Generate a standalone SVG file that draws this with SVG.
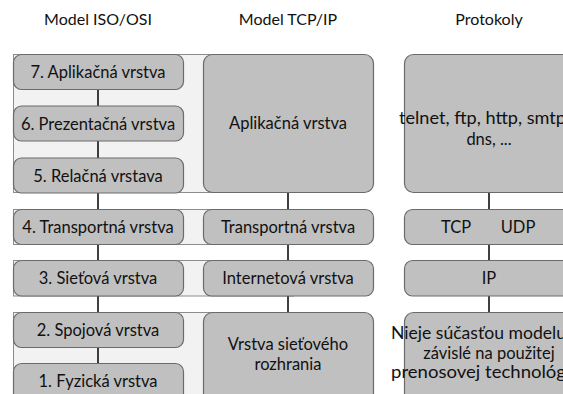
<svg xmlns="http://www.w3.org/2000/svg" width="563" height="394" viewBox="0 0 563 394">
  <style>
    .band { fill: #f2f2f2; stroke: #8c8c8c; stroke-width: 1; }
    .box { fill: #c0c0c0; stroke: #6b6b6b; stroke-width: 1.2; }
    .conn { stroke: #000; stroke-width: 1.5; fill: none; }
    text { font-family: Lato, "Liberation Sans", sans-serif; font-size: 16.5px; fill: #111; text-anchor: middle; }
    .head { font-size: 16px; }
    .start { text-anchor: start; }
  </style>

  <!-- column headings -->
  <g id="headings">
    <text class="head" x="98" y="25">Model ISO/OSI</text>
    <text class="head" x="288" y="25">Model TCP/IP</text>
    <text class="head" x="489" y="25">Protokoly</text>
  </g>

  <!-- light bands linking the OSI layers to their TCP/IP counterpart -->
  <g id="bands">
    <rect class="band" x="13.5" y="54.5" width="280" height="138"/>
    <rect class="band" x="13.5" y="209.5" width="280" height="35"/>
    <rect class="band" x="13.5" y="260.5" width="280" height="35.5"/>
    <rect class="band" x="13.5" y="312.5" width="280" height="100"/>
  </g>

  <!-- connectors -->
  <g id="connectors">
    <line class="conn" x1="98" y1="89" x2="98" y2="106"/>
    <line class="conn" x1="98" y1="141" x2="98" y2="158"/>
    <line class="conn" x1="98" y1="193" x2="98" y2="209"/>
    <line class="conn" x1="98" y1="244" x2="98" y2="260"/>
    <line class="conn" x1="98" y1="296" x2="98" y2="312"/>
    <line class="conn" x1="98" y1="347" x2="98" y2="363"/>
    <line class="conn" x1="288" y1="192" x2="288" y2="209"/>
    <line class="conn" x1="288" y1="244" x2="288" y2="261"/>
    <line class="conn" x1="288" y1="296" x2="288" y2="312"/>
    <line class="conn" x1="489" y1="193" x2="489" y2="209"/>
    <line class="conn" x1="489" y1="244" x2="489" y2="260"/>
    <line class="conn" x1="489" y1="296" x2="489" y2="312"/>
  </g>

  <!-- ISO/OSI layers -->
  <g id="osi7">
    <rect class="box" x="13.5" y="54.5" width="170" height="35" rx="8"/>
    <text x="98" y="78">7. Aplikačná vrstva</text>
  </g>
  <g id="osi6">
    <rect class="box" x="13.5" y="106" width="170" height="35" rx="8"/>
    <text x="98" y="129.5">6. Prezentačná vrstva</text>
  </g>
  <g id="osi5">
    <rect class="box" x="13.5" y="158" width="170" height="35" rx="8"/>
    <text x="98" y="181.5">5. Relačná vrstava</text>
  </g>
  <g id="osi4">
    <rect class="box" x="13.5" y="209.5" width="170" height="35" rx="8"/>
    <text x="98" y="233">4. Transportná vrstva</text>
  </g>
  <g id="osi3">
    <rect class="box" x="13.5" y="260.5" width="170" height="35.5" rx="8"/>
    <text x="98" y="284">3. Sieťová vrstva</text>
  </g>
  <g id="osi2">
    <rect class="box" x="13.5" y="312.5" width="170" height="35" rx="8"/>
    <text x="98" y="336">2. Spojová vrstva</text>
  </g>
  <g id="osi1">
    <rect class="box" x="13.5" y="363.5" width="170" height="45" rx="8"/>
    <text x="98" y="387">1. Fyzická vrstva</text>
  </g>

  <!-- TCP/IP layers -->
  <g id="tcp-app">
    <rect class="box" x="203.5" y="54.5" width="170" height="138" rx="9"/>
    <text x="288" y="128.5">Aplikačná vrstva</text>
  </g>
  <g id="tcp-transport">
    <rect class="box" x="203.5" y="209.5" width="170" height="35" rx="8"/>
    <text x="288" y="233">Transportná vrstva</text>
  </g>
  <g id="tcp-internet">
    <rect class="box" x="203.5" y="260.5" width="170" height="35.5" rx="8"/>
    <text x="288" y="284">Internetová vrstva</text>
  </g>
  <g id="tcp-link">
    <rect class="box" x="203.5" y="312.5" width="170" height="100" rx="9"/>
    <text x="288" y="350">Vrstva sieťového</text>
    <text x="288" y="370">rozhrania</text>
  </g>

  <!-- protocols -->
  <g id="proto-app">
    <rect class="box" x="404.5" y="54.5" width="170" height="138" rx="9"/>
    <text class="start" x="399" y="124" textLength="167" lengthAdjust="spacingAndGlyphs">telnet, ftp, http, smtp</text>
    <text x="489" y="145">dns, ...</text>
  </g>
  <g id="proto-transport">
    <rect class="box" x="404.5" y="209.5" width="170" height="35" rx="8"/>
    <text x="456" y="233">TCP</text>
    <text x="518" y="233">UDP</text>
  </g>
  <g id="proto-internet">
    <rect class="box" x="404.5" y="260.5" width="170" height="35.5" rx="8"/>
    <text x="489" y="284">IP</text>
  </g>
  <g id="proto-link">
    <rect class="box" x="404.5" y="312.5" width="170" height="100" rx="9"/>
    <text class="start" x="391" y="339" textLength="175" lengthAdjust="spacingAndGlyphs">Nieje súčasťou modelu</text>
    <text x="489" y="359">závislé na použitej</text>
    <text class="start" x="391" y="378" textLength="175" lengthAdjust="spacingAndGlyphs">prenosovej technológ</text>
  </g>
</svg>
